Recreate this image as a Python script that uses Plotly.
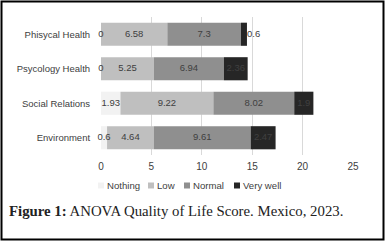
import plotly.graph_objects as go

categories = ["Phisycal Health", "Psycology Health", "Social Relations", "Environment"]
series_names = ["Nothing", "Low", "Normal", "Very well"]
nothing = [0, 0, 1.93, 0.6]
low = [6.58, 5.25, 9.22, 4.64]
normal = [7.3, 6.94, 8.02, 9.61]
very_well = [0.6, 2.36, 1.9, 2.47]
x_ticks = [0, 5, 10, 15, 20, 25]

series = [nothing, low, normal, very_well]
colors = ["#f2f2f2", "#bfbfbf", "#8f8f8f", "#262626"]
outside_label = [[False] * 4, [False] * 4, [False] * 4, [True, False, False, False]]

W, H = 385, 241
ML, MR, MT, MB = 101, 32, 17, 86
PW, PH = W - ML - MR, H - MT - MB
LABEL_FONT = dict(family="Liberation Sans", size=9.5, color="#404040")


def px_x(p):
    return (p - ML) / PW


def px_y(p):
    return 1 - (p - MT) / PH


fig = go.Figure()
base = [0.0] * len(categories)
for name, vals, col, outs in zip(series_names, series, colors, outside_label):
    fig.add_trace(go.Bar(
        y=categories, x=vals, base=base, name=name, orientation="h",
        marker=dict(color=col, line=dict(width=0)), showlegend=False,
    ))
    # data labels: centered in segment, or just past the bar end
    lx, ly, lt, lp = [], [], [], []
    for i, v in enumerate(vals):
        if outs[i]:
            lx.append(base[i] + v)
            lp.append("middle right")
        else:
            lx.append(base[i] + v / 2)
            lp.append("middle center")
        ly.append(categories[i])
        lt.append(f"{v:g}")
    fig.add_trace(go.Scatter(
        x=lx, y=ly, text=lt, mode="text", textposition=lp, cliponaxis=False,
        textfont=LABEL_FONT, showlegend=False, hoverinfo="skip",
    ))
    base = [b + v for b, v in zip(base, vals)]

shapes = [dict(type="rect", xref="paper", yref="paper",
               x0=px_x(1.5), x1=px_x(383.5), y0=px_y(239.5), y1=px_y(1.5),
               line=dict(color="black", width=2), fillcolor="rgba(0,0,0,0)", layer="above")]
annotations = [dict(xref="paper", yref="paper", x=px_x(7), y=px_y(211),
                    xanchor="left", yanchor="middle", showarrow=False,
                    text="<b>Figure 1:</b> ANOVA Quality of Life Score. Mexico, 2023.",
                    font=dict(family="Liberation Serif", size=14.8, color="#222222"))]

# legend built from swatches + text
legend_swatch_x = [98, 148, 184, 234]
for name, col, sx in zip(series_names, colors, legend_swatch_x):
    shapes.append(dict(type="rect", xref="paper", yref="paper",
                       x0=px_x(sx), x1=px_x(sx + 6), y0=px_y(188.5), y1=px_y(182.5),
                       line=dict(width=0), fillcolor=col, layer="above"))
    annotations.append(dict(xref="paper", yref="paper", x=px_x(sx + 6.5), y=px_y(185.5),
                            xanchor="left", yanchor="middle", showarrow=False, text=name,
                            font=dict(family="Liberation Sans", size=9.6, color="#404040")))

fig.update_layout(
    width=W, height=H,
    margin=dict(l=ML, r=MR, t=MT, b=MB, pad=0, autoexpand=False),
    barmode="overlay", bargap=0.33,
    paper_bgcolor="white", plot_bgcolor="white",
    font=dict(family="Liberation Sans", size=9.5, color="#404040"),
    showlegend=False,
    xaxis=dict(range=[0, 25], tickvals=x_ticks, showgrid=True, gridcolor="#d9d9d9",
               gridwidth=1, zeroline=False, showline=False, ticks="outside", ticklen=2,
               tickcolor="rgba(0,0,0,0)",
               tickfont=dict(size=10, color="#404040"), fixedrange=True),
    yaxis=dict(autorange="reversed", showgrid=False, zeroline=False, showline=False,
               ticks="outside", ticklen=8, tickcolor="rgba(0,0,0,0)",
               tickfont=dict(size=9.5, color="#404040"), fixedrange=True),
    shapes=shapes,
    annotations=annotations,
)

fig.write_html("out.html", config={"displayModeBar": False, "staticPlot": True},
               post_script="document.body.style.margin='0px';")
